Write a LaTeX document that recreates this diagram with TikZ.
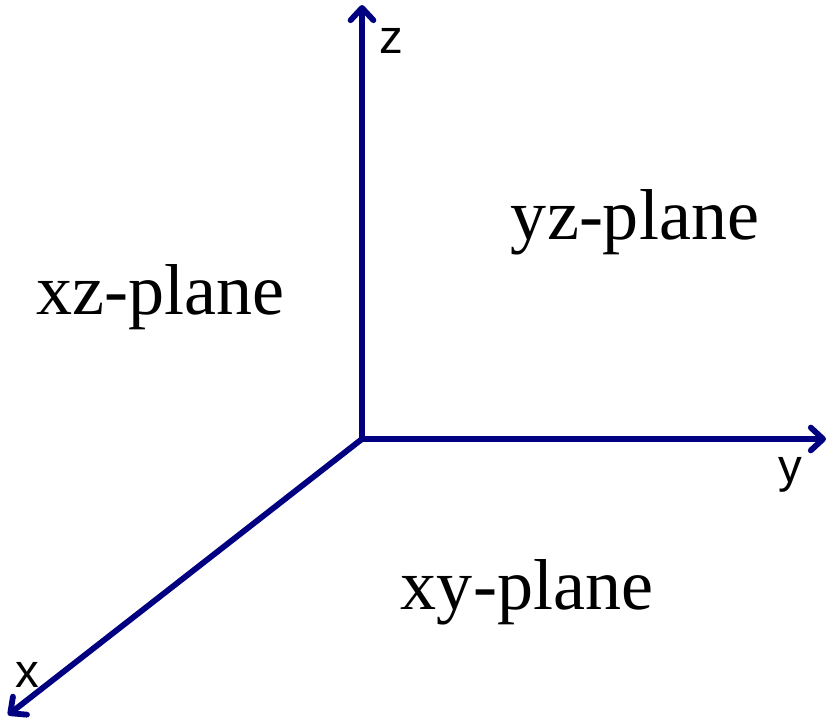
\documentclass[tikz,border=0pt]{standalone}
\usepackage{fontspec}
\setmainfont{Liberation Serif}
\setsansfont{Liberation Sans}
\usepackage{xcolor}
\usepackage{tikz}
\usetikzlibrary{arrows.meta,calc,positioning}
\definecolor{axisnavy}{HTML}{000080}
\tikzset{
  axisline/.style={axisnavy,line width=3.3pt,line join=round,-{Straight Barb[length=7pt,width=13pt,round]}},
  axislabel/.style={font=\sffamily\fontsize{27}{27}\selectfont,inner sep=0pt,anchor=base},
  planelabel/.style={font=\rmfamily\fontsize{41}{41}\selectfont,inner sep=0pt,anchor=base}
}
\begin{document}
\begin{tikzpicture}
\useasboundingbox (-7.24,-5.64) rectangle (9.32,8.78);
\coordinate (O) at (0,0);
\coordinate (xend) at (-7.08,-5.52);
\coordinate (yend) at (9.28,0);
\coordinate (zend) at (0,8.68);
\draw[axisline] (O) -- (zend);
\draw[axisline] (O) -- (yend);
\draw[axisline] (O) -- (xend);
\node[axislabel] (zlabel) at (0.58,7.72) {z};
\node[axislabel] (ylabel) at (8.56,-0.86) {y};
\node[axislabel] (xlabel) at (-6.7,-4.96) {x};
\node[planelabel] (xzplane) at (-4.03,2.5) {xz-plane};
\node[planelabel] (yzplane) at (5.46,4.0) {yz-plane};
\node[planelabel] (xyplane) at (3.3,-3.4) {xy-plane};
\end{tikzpicture}
\end{document}
